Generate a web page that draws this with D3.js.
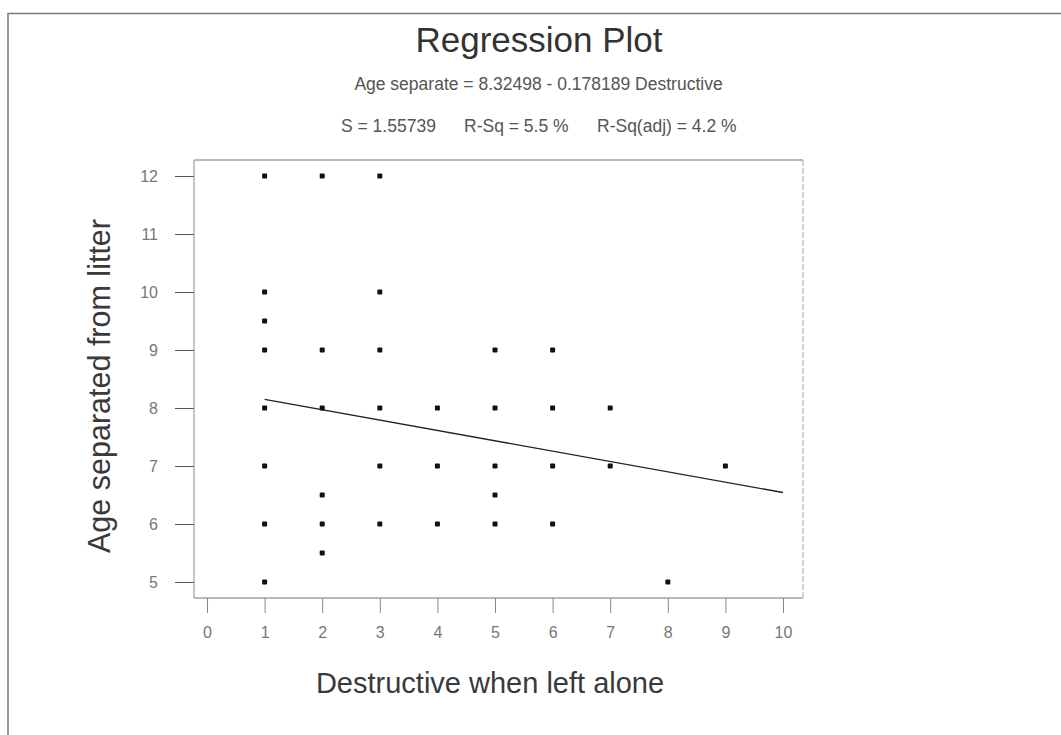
<!DOCTYPE html>
<html lang="en">
<head>
    <meta charset="UTF-8">
    <script src="https://cdn.jsdelivr.net/npm/d3@7"></script>
    <title>Regression Plot</title>
    <style>
        body {
            margin: 0;
            background: white;
        }

        svg text {
            font-family: 'Liberation Sans', Arial, sans-serif;
        }

        .tick text {
            fill: #777;
            font-size: 16px;
        }
    </style>
</head>
<body>
<div id="chart"></div>

<script>
    // observations: destructive score vs age separated from litter
    const destructive = [1, 1, 1, 1, 1, 1, 1, 1,
                         2, 2, 2, 2, 2, 2,
                         3, 3, 3, 3, 3, 3,
                         4, 4, 4,
                         5, 5, 5, 5, 5,
                         6, 6, 6, 6,
                         7, 7,
                         8,
                         9];
    const ageSeparated = [12, 10, 9.5, 9, 8, 7, 6, 5,
                          12, 9, 8, 6.5, 6, 5.5,
                          12, 10, 9, 8, 7, 6,
                          8, 7, 6,
                          9, 8, 7, 6.5, 6,
                          9, 8, 7, 6,
                          8, 7,
                          5,
                          7];

    const intercept = 8.32498;
    const slope = -0.178189;
    const fitRange = [1, 10];

    const xTicks = [0, 1, 2, 3, 4, 5, 6, 7, 8, 9, 10];
    const yTicks = [5, 6, 7, 8, 9, 10, 11, 12];

    const width = 1061;
    const height = 735;
    const plot = {left: 194, right: 803, top: 160, bottom: 598};

    const svg = d3.select("#chart").append("svg")
        .attr("width", width)
        .attr("height", height);

    // page border (top and left only)
    svg.append("path")
        .attr("d", `M8,735 L8,13.5 L1061,13.5`)
        .attr("fill", "none")
        .attr("stroke", "#777")
        .attr("stroke-width", 1.5);

    const x = d3.scaleLinear().domain([-0.226, 10.347]).range([plot.left, plot.right]);
    const y = d3.scaleLinear().domain([4.724, 12.276]).range([plot.bottom, plot.top]);

    // titles
    svg.append("text")
        .attr("x", 539)
        .attr("y", 52)
        .attr("text-anchor", "middle")
        .attr("font-size", 35)
        .attr("fill", "#333")
        .text("Regression Plot");

    svg.append("text")
        .attr("x", 538.5)
        .attr("y", 90)
        .attr("text-anchor", "middle")
        .attr("font-size", 17.5)
        .attr("fill", "#555")
        .text("Age separate = 8.32498 - 0.178189 Destructive");

    const stats = [
        {label: "S = 1.55739", x: 341},
        {label: "R-Sq = 5.5 %", x: 464},
        {label: "R-Sq(adj) = 4.2 %", x: 597}
    ];
    svg.selectAll(".stat")
        .data(stats)
        .enter()
        .append("text")
        .attr("class", "stat")
        .attr("x", d => d.x)
        .attr("y", 132)
        .attr("font-size", 17.5)
        .attr("fill", "#555")
        .text(d => d.label);

    // axes
    const yAxis = svg.append("g")
        .attr("transform", `translate(${plot.left},0)`)
        .call(d3.axisLeft(y).tickValues(yTicks).tickSize(19).tickPadding(17));
    yAxis.select(".domain").remove();
    yAxis.selectAll(".tick line").attr("stroke", "#555");

    const xAxis = svg.append("g")
        .attr("transform", `translate(0,${plot.bottom})`)
        .call(d3.axisBottom(x).tickValues(xTicks).tickSize(15).tickPadding(14));
    xAxis.select(".domain").remove();
    xAxis.selectAll(".tick line").attr("stroke", "#888");

    // plot frame
    svg.append("line")
        .attr("x1", plot.left).attr("x2", plot.right)
        .attr("y1", plot.top).attr("y2", plot.top)
        .attr("stroke", "#777").attr("stroke-width", 1.2);
    svg.append("line")
        .attr("x1", plot.left).attr("x2", plot.right)
        .attr("y1", plot.bottom).attr("y2", plot.bottom)
        .attr("stroke", "#777").attr("stroke-width", 1.2);
    svg.append("line")
        .attr("x1", plot.left).attr("x2", plot.left)
        .attr("y1", plot.top).attr("y2", plot.bottom)
        .attr("stroke", "#888").attr("stroke-width", 1);
    svg.append("line")
        .attr("x1", plot.right).attr("x2", plot.right)
        .attr("y1", plot.top).attr("y2", plot.bottom)
        .attr("stroke", "#aaa").attr("stroke-width", 1)
        .attr("stroke-dasharray", "6,2");

    // fitted line
    const line = d3.line()
        .x(d => x(d))
        .y(d => y(intercept + slope * d));

    svg.append("path")
        .datum(fitRange)
        .attr("fill", "none")
        .attr("stroke", "#222")
        .attr("stroke-width", 1.3)
        .attr("d", line);

    // points
    svg.selectAll(".pt")
        .data(destructive.map((d, i) => ({x: d, y: ageSeparated[i]})))
        .enter()
        .append("rect")
        .attr("class", "pt")
        .attr("x", d => x(d.x) - 2.5)
        .attr("y", d => y(d.y) - 2.5)
        .attr("width", 5)
        .attr("height", 5)
        .attr("rx", 1)
        .attr("fill", "#111");

    // axis labels
    svg.append("text")
        .attr("x", 490)
        .attr("y", 693)
        .attr("text-anchor", "middle")
        .attr("font-size", 29)
        .attr("fill", "#3a3a3a")
        .text("Destructive when left alone");

    svg.append("text")
        .attr("transform", "translate(110,386) rotate(-90)")
        .attr("text-anchor", "middle")
        .attr("font-size", 30.5)
        .attr("fill", "#3a3a3a")
        .text("Age separated from litter");
</script>
</body>
</html>
